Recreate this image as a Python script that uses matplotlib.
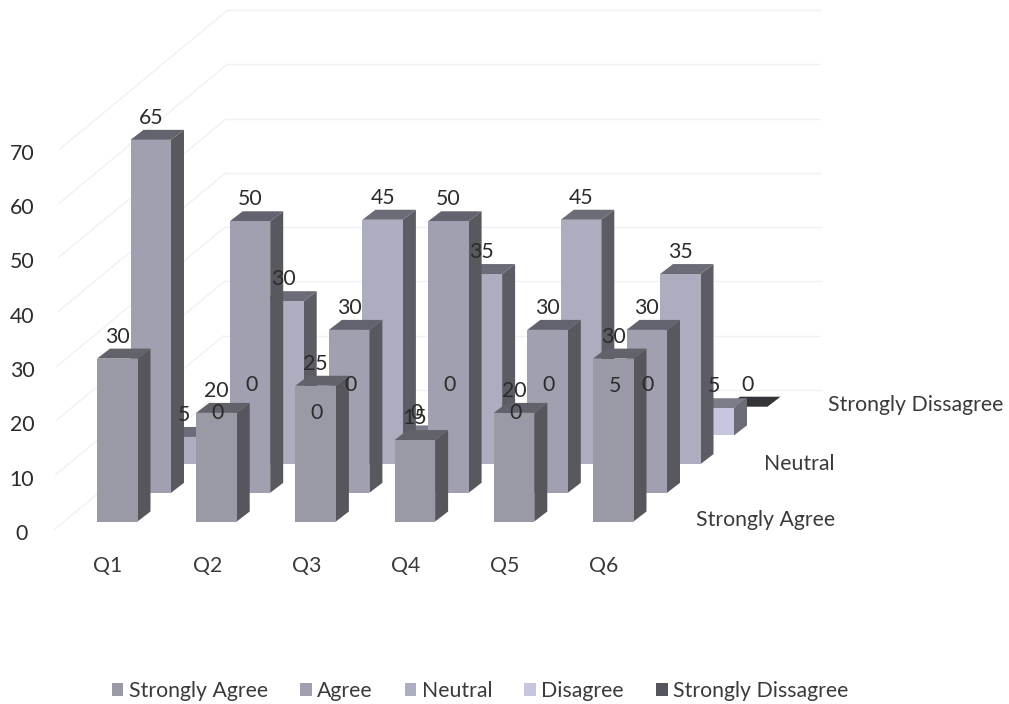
import matplotlib
matplotlib.use('Agg')
import matplotlib.pyplot as plt
from matplotlib.patches import Polygon, Patch

plt.rcParams['font.family'] = ['Lato', 'DejaVu Sans']

questions = ['Q1', 'Q2', 'Q3', 'Q4', 'Q5', 'Q6']
series_names = ['Strongly Agree', 'Agree', 'Neutral', 'Disagree', 'Strongly Dissagree']
strongly_agree = [30, 20, 25, 15, 20, 30]
agree = [65, 50, 30, 50, 30, 30]
neutral = [5, 30, 45, 35, 45, 35]
disagree = [0, 0, 0, 0, 5, 5]
strongly_dissagree = [0, 0, 0, 0, 0, 0]
y_ticks = [0, 10, 20, 30, 40, 50, 60, 70]
depth_labels = ['Strongly Agree', 'Neutral', 'Strongly Dissagree']

front_colors = ['#9a9aa6', '#a0a0b0', '#adadc0', '#c6c7df', '#55555e']
top_colors = ['#62626b', '#636370', '#6c6c78', '#7c7c88', '#333338']
side_colors = ['#56565c', '#58585f', '#5c5c64', '#6c6c76', '#2a2a2e']

# oblique projection, pixel units of the picture
X0, Y0 = 97, 521.5
CAT_STEP = 99.2
ROW_DX, ROW_DY = 33.5, 28.7
BAR_W = 40.5
SIDE_DX, SIDE_DY = 13, 10
UNIT = 5.43
FS = 15.3
TXT = '#2b2b2b'


def project(cat, row, val):
    return X0 + CAT_STEP * cat + ROW_DX * row, Y0 - ROW_DY * row - UNIT * val


fig = plt.figure(figsize=(10.09, 7.04), dpi=100)
ax = fig.add_axes([0, 0, 1, 1])
ax.set_xlim(0, 1009)
ax.set_ylim(704, 0)
ax.axis('off')

# walls, very faint in the scan
grid_color = '#f0f0f7'
for t in y_ticks:
    wall_x = 55 + 5 * t / 70
    wall_y = 529 - UNIT * t
    back_x = wall_x + 168
    back_y = wall_y - 139
    ax.plot([wall_x, back_x], [wall_y, back_y], color=grid_color, lw=1, zorder=1)
    ax.plot([back_x, 820], [back_y, back_y], color=grid_color, lw=1, zorder=1)
    ax.text(22, 534 - UNIT * t, str(t), ha='center', va='center', fontsize=FS, color=TXT, zorder=50)

rows = [strongly_agree, agree, neutral, disagree, strongly_dissagree]

# back row first so the front rows cover it
for r in range(len(rows) - 1, -1, -1):
    for c, v in enumerate(rows[r]):
        x, base = project(c, r, 0)
        _, top = project(c, r, v)
        z = 10 + (len(rows) - r) * 2
        ax.add_patch(Polygon([(x + BAR_W, top), (x + BAR_W + SIDE_DX, top - SIDE_DY),
                              (x + BAR_W + SIDE_DX, base - SIDE_DY), (x + BAR_W, base)],
                             closed=True, fc=side_colors[r], ec='none', zorder=z))
        ax.add_patch(Polygon([(x, top), (x + SIDE_DX, top - SIDE_DY),
                              (x + BAR_W + SIDE_DX, top - SIDE_DY), (x + BAR_W, top)],
                             closed=True, fc=top_colors[r], ec='none', zorder=z))
        if v > 0:
            ax.bar(x + BAR_W / 2, base - top, width=BAR_W, bottom=top,
                   color=front_colors[r], zorder=z)

# value labels sit on top of everything
for r, vals in enumerate(rows):
    for c, v in enumerate(vals):
        x, top = project(c, r, v)
        ax.text(x + BAR_W / 2, top - 22, str(v), ha='center', va='center',
                fontsize=FS, color=TXT, zorder=60)

for c, q in enumerate(questions):
    x, _ = project(c, 0, 0)
    ax.text(x + 11, 566, q, ha='center', va='center', fontsize=FS, color='#3a3a3a', zorder=50)

ax.text(835, 520, depth_labels[0], ha='right', va='center', fontsize=FS, color='#3a3a3a')
ax.text(835, 464, depth_labels[1], ha='right', va='center', fontsize=FS, color='#3a3a3a')
ax.text(1003, 405, depth_labels[2], ha='right', va='center', fontsize=FS, color='#3a3a3a')

handles = [Patch(facecolor=front_colors[i], label=series_names[i]) for i in range(5)]
ax.legend(handles=handles, ncol=5, loc='center', bbox_to_anchor=(480 / 1009, 1 - 691 / 704),
          frameon=False, fontsize=FS, handlelength=0.56, handleheight=0.56,
          handletextpad=0.25, columnspacing=1.5, labelcolor='#3a3a3a')

fig.savefig('out.png', dpi=100)
plt.close(fig)
